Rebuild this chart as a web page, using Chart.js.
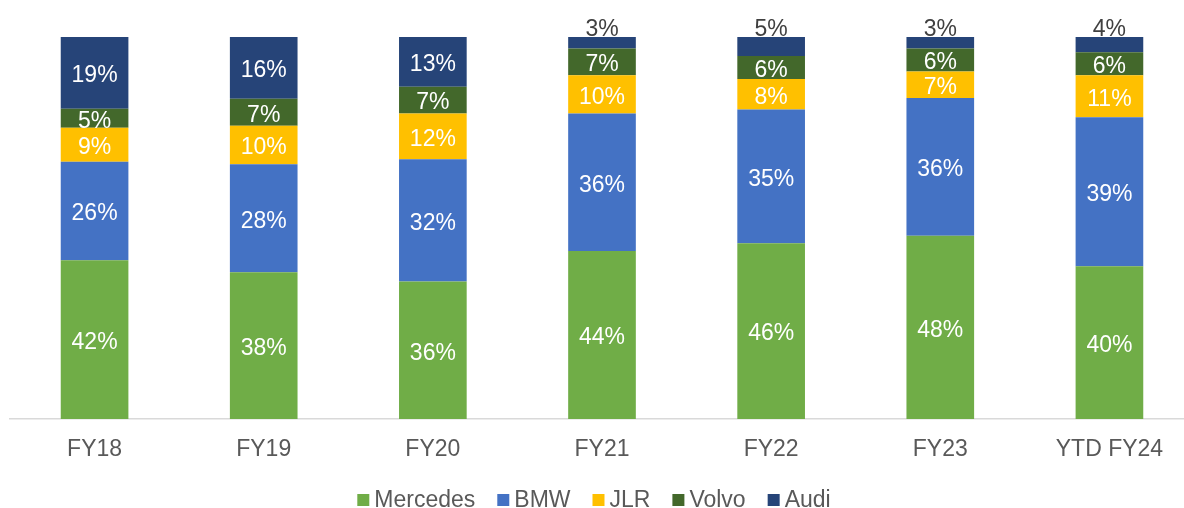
<!DOCTYPE html>
<html>
<head>
<meta charset="utf-8">
<script src="https://cdn.jsdelivr.net/npm/chart.js@4"></script>
<style>
    html, body { margin: 0; padding: 0; background: #fff; overflow: hidden; }
    #wrap { width: 1184px; height: 508px; overflow: hidden; }
</style>
</head>
<body>
<div id="wrap"><canvas id="grafico" width="1194" height="508"></canvas></div>
<script>
const anos = ['FY18', 'FY19', 'FY20', 'FY21', 'FY22', 'FY23', 'YTD FY24'];
const marcas = ['Mercedes', 'BMW', 'JLR', 'Volvo', 'Audi'];
const cores = ['#70AD47', '#4472C4', '#FFC000', '#43682B', '#264478'];

const mercedes = [42, 38, 36, 44, 46, 48, 40];
const bmw = [26, 28, 32, 36, 35, 36, 39];
const jlr = [9, 10, 12, 10, 8, 7, 11];
const volvo = [5, 7, 7, 7, 6, 6, 6];
const audi = [19, 16, 13, 3, 5, 3, 4];

const series = [mercedes, bmw, jlr, volvo, audi];
const fonte = '"Liberation Sans", Arial, sans-serif';

// each bar is 100%, so the rounded labels are rescaled to their own total
const totais = anos.map((_, i) => series.reduce((s, arr) => s + arr[i], 0));

const rotulos = {
    id: 'rotulos',
    afterDatasetsDraw(chart) {
        const ctx = chart.ctx;
        ctx.save();
        ctx.font = '23px ' + fonte;
        ctx.textAlign = 'center';
        chart.data.datasets.forEach((ds, d) => {
            const meta = chart.getDatasetMeta(d);
            meta.data.forEach((bar, i) => {
                const texto = series[d][i] + '%';
                const h = bar.base - bar.y;
                if (d === series.length - 1 && h < 24) {
                    ctx.fillStyle = '#404040';
                    ctx.textBaseline = 'alphabetic';
                    ctx.fillText(texto, bar.x, bar.y - 1);
                } else {
                    ctx.fillStyle = '#ffffff';
                    ctx.textBaseline = 'middle';
                    ctx.fillText(texto, bar.x, (bar.y + bar.base) / 2 + 3);
                }
            });
        });
        ctx.restore();
    }
};

const legenda = {
    id: 'legenda',
    afterDraw(chart) {
        const ctx = chart.ctx;
        ctx.save();
        ctx.font = '23px ' + fonte;
        const caixa = 12, folga = 5, espaco = 22;
        const larguras = marcas.map(m => ctx.measureText(m).width);
        const total = larguras.reduce((s, w) => s + caixa + folga + w, 0) + espaco * (marcas.length - 1);
        let x = 594 - total / 2;
        const y = 500;
        ctx.textBaseline = 'middle';
        ctx.textAlign = 'left';
        marcas.forEach((m, i) => {
            ctx.fillStyle = cores[i];
            ctx.fillRect(x, y - caixa / 2, caixa, caixa);
            x += caixa + folga;
            ctx.fillStyle = '#595959';
            ctx.fillText(m, x, y + 1);
            x += larguras[i] + espaco;
        });
        ctx.restore();
    }
};

new Chart(document.getElementById('grafico'), {
    type: 'bar',
    data: {
        labels: anos,
        datasets: marcas.map((m, d) => ({
            label: m,
            data: series[d].map((v, i) => v / totais[i] * 100),
            backgroundColor: cores[d],
            borderWidth: 0,
            categoryPercentage: 1,
            barPercentage: 0.4
        }))
    },
    options: {
        responsive: false,
        animation: false,
        layout: { padding: { top: 37, left: 10, right: 0, bottom: 0 } },
        plugins: {
            legend: { display: false },
            tooltip: { enabled: false }
        },
        scales: {
            x: {
                stacked: true,
                grid: { display: false, drawTicks: false },
                border: { display: true, color: '#D9D9D9', width: 1.5 },
                ticks: {
                    color: '#595959',
                    font: { size: 23, family: fonte },
                    padding: 17,
                    maxRotation: 0
                },
                afterFit: (s) => { s.height = 89; }
            },
            y: {
                stacked: true,
                display: false,
                min: 0,
                max: 100
            }
        }
    },
    plugins: [rotulos, legenda]
});
</script>
</body>
</html>
